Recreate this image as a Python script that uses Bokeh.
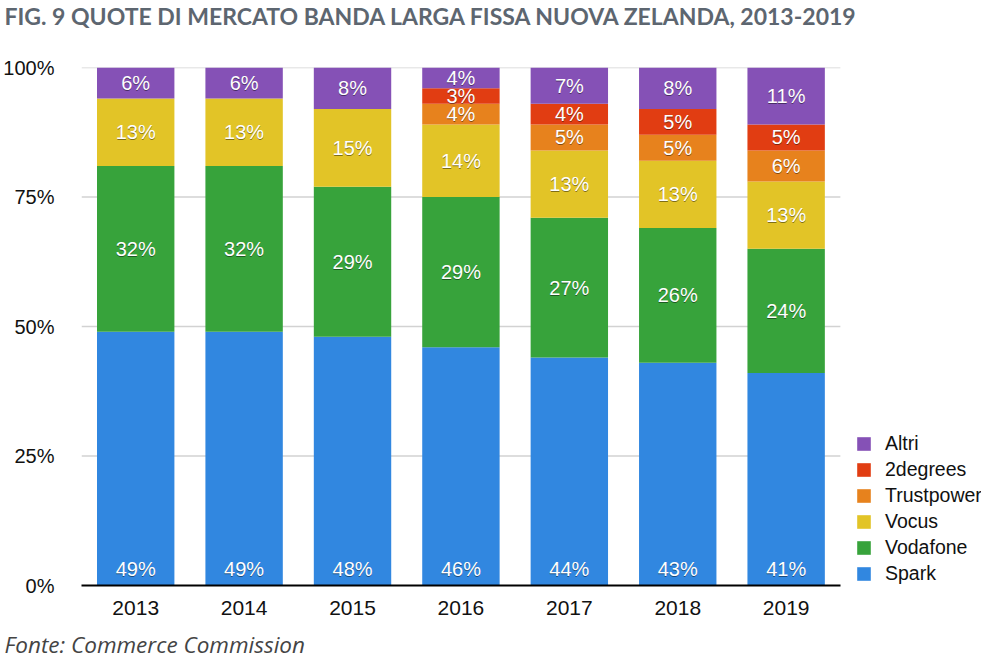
import numpy as np
from bokeh.plotting import figure
from bokeh.models import (ColumnDataSource, Range1d, FixedTicker,
                          Legend, LegendItem, Title)
from bokeh.core.properties import value
from bokeh.embed import file_html
from bokeh.resources import INLINE

# ---- data ----
years = ["2013", "2014", "2015", "2016", "2017", "2018", "2019"]
spark = [49, 49, 48, 46, 44, 43, 41]
vodafone = [32, 32, 29, 29, 27, 26, 24]
vocus = [13, 13, 15, 14, 13, 13, 13]
trustpower = [0, 0, 0, 4, 5, 5, 6]
twodegrees = [0, 0, 0, 3, 4, 5, 5]
altri = [6, 6, 8, 4, 7, 8, 11]
series_names = ["Spark", "Vodafone", "Vocus", "Trustpower", "2degrees", "Altri"]
series_values = [spark, vodafone, vocus, trustpower, twodegrees, altri]
y_ticks = [0, 25, 50, 75, 100]
y_tick_labels = ["0%", "25%", "50%", "75%", "100%"]
title_text = "FIG. 9 QUOTE DI MERCATO BANDA LARGA FISSA NUOVA ZELANDA, 2013-2019"
source_text = "Fonte: Commerce Commission"

# ---- styles ----
colors = ["#3187e0", "#37a33b", "#e2c427", "#e7821d", "#e13d12", "#8551b6"]
SANS = "Liberation Sans"

W, H = 981, 659
LEFT, TOP, BOTTOM = 74, 67, 74
CAT_PX = 109.25                     # pixel width of one category slot
n = len(years)
x_end = -0.5 + (W - LEFT) / CAT_PX  # frame extends to the right edge (legend space)

p = figure(width=W, height=H, x_range=Range1d(-0.5, x_end),
           y_range=Range1d(0, 100), output_backend="svg", toolbar_location=None,
           min_border_left=LEFT, min_border_right=0, min_border_top=TOP,
           min_border_bottom=BOTTOM)
p.outline_line_color = None
p.background_fill_color = "white"
p.border_fill_color = "white"

xi = list(range(n))

# grid lines limited to the category area
grid_y = [t for t in y_ticks if t > 0]
p.segment(x0=[-0.5] * len(grid_y), x1=[n - 0.5] * len(grid_y), y0=grid_y, y1=grid_y,
          line_color="#d2d2d2", line_width=1.5)

data = {"x": xi}
for nm, v in zip(series_names, series_values):
    data[nm] = v
src = ColumnDataSource(data)
renderers = p.vbar_stack(series_names, x="x", width=0.714, color=colors,
                         line_color=None, source=src)

# labels
xs, ys, ts = [], [], []
for i in range(1, len(series_names)):
    for j in range(n):
        v = series_values[i][j]
        if v <= 0:
            continue
        base = sum(series_values[k][j] for k in range(i))
        xs.append(j)
        ys.append(base + v / 2)
        ts.append(f"{v}%")
lab = ColumnDataSource(dict(x=xs, y=ys, t=ts))
sp = ColumnDataSource(dict(x=xi, y=[0] * n, t=[f"{v}%" for v in spark]))

common = dict(text="t", text_align="center", text_baseline="middle",
              text_font=value(SANS), text_font_size="20px")
p.text(x="x", y="y", source=lab, text_color="#000000", text_alpha=0.45,
       y_offset=1, **common)
p.text(x="x", y="y", source=lab, text_color="white", **common)
p.text(x="x", y="y", source=sp, text_color="#000000", text_alpha=0.45,
       y_offset=-16, **common)
p.text(x="x", y="y", source=sp, text_color="white", y_offset=-17, **common)

# axes
p.xgrid.grid_line_color = None
p.ygrid.grid_line_color = None
p.yaxis.ticker = FixedTicker(ticks=y_ticks)
p.yaxis.major_label_overrides = {t: l for t, l in zip(y_ticks, y_tick_labels)}
p.yaxis.axis_line_color = None
p.yaxis.major_tick_line_color = None
p.yaxis.minor_tick_line_color = None
p.yaxis.major_label_standoff = 21
p.yaxis.major_label_text_font = SANS
p.yaxis.major_label_text_font_size = "20px"
p.yaxis.major_label_text_color = "#111111"

p.xaxis.ticker = FixedTicker(ticks=xi)
p.xaxis.major_label_overrides = {i: y for i, y in zip(xi, years)}
p.xaxis.bounds = (-0.5, n - 0.5)
p.xaxis.axis_line_color = "black"
p.xaxis.axis_line_width = 2
p.xaxis.major_tick_line_color = None
p.xaxis.minor_tick_line_color = None
p.xaxis.major_label_standoff = 9
p.xaxis.major_label_text_font = SANS
p.xaxis.major_label_text_font_size = "21px"
p.xaxis.major_label_text_color = "#111111"

# legend
items = [LegendItem(label=nm, renderers=[r]) for nm, r in zip(series_names, renderers)]
legend = Legend(items=items[::-1], location=(774, 0), padding=0, margin=0,
                border_line_color=None, background_fill_alpha=0,
                glyph_width=17, glyph_height=17, label_height=18, spacing=3,
                label_standoff=13, label_text_font=SANS,
                label_text_font_size="19.5px", label_text_color="#111111",
                label_text_baseline="middle")
p.add_layout(legend, "center")

# title (spacer next to the frame, then the title itself)
p.title.text = ""
p.add_layout(Title(text=" ", text_font_size="1px", standoff=33), "above")
p.add_layout(Title(text=title_text, align="left", vertical_align="top",
                   offset=-77, standoff=0, text_font="Lato",
                   text_font_style="bold", text_font_size="23px",
                   text_color="#5d6670"), "above")

# footer (below the axis, after a small spacer)
p.add_layout(Title(text=" ", text_font_size="1px", standoff=6), "below")
p.add_layout(Title(text=source_text, align="left", vertical_align="bottom",
                   offset=-77, standoff=0, text_font="Open Sans",
                   text_font_style="italic", text_font_size="22.5px",
                   text_color="#444444"), "below")

open("out.html", "w").write(file_html(p, INLINE))
